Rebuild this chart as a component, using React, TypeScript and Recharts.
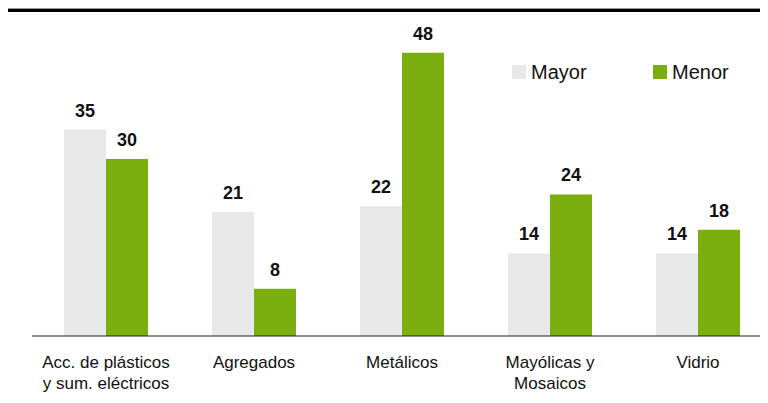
import React from "react";
import { BarChart, Bar, XAxis, YAxis, LabelList, Legend } from "recharts";

const categories = [
  "Acc. de plásticos\ny sum. eléctricos",
  "Agregados",
  "Metálicos",
  "Mayólicas y\nMosaicos",
  "Vidrio",
];
const mayor = [35, 21, 22, 14, 14];
const menor = [30, 8, 48, 24, 18];
const seriesNames = ["Mayor", "Menor"];

const GREY = "#e8e8e8";
const GREEN = "#7bae0f";
const FONT = "'Liberation Sans', Arial, sans-serif";

const data = categories.map((c, i) => ({ cat: c, mayor: mayor[i], menor: menor[i] }));

const CategoryTick = (props: any) => {
  const { x, y, payload } = props;
  const lines = String(payload.value).split("\n");
  return (
    <text x={x} y={y} textAnchor="middle" fill="#111" fontSize={17} fontFamily={FONT}>
      {lines.map((l, i) => (
        <tspan key={i} x={x} dy={i === 0 ? 32 : 21}>
          {l}
        </tspan>
      ))}
    </text>
  );
};

const LegendBox = () => (
  <div style={{ display: "flex", alignItems: "center", height: 24, fontFamily: FONT, fontSize: 20, color: "#111" }}>
    {seriesNames.map((n, i) => (
      <div key={n} style={{ display: "flex", alignItems: "center", width: i === 0 ? 141 : "auto" }}>
        <span style={{ display: "inline-block", width: 14, height: 14, background: i === 0 ? GREY : GREEN, marginRight: 5 }} />
        <span>{n}</span>
      </div>
    ))}
  </div>
);

export default function App() {
  return (
    <div style={{ position: "relative", margin: -8, width: 768, height: 403, overflow: "hidden", background: "#fff" }}>
      <div style={{ position: "absolute", left: 7, right: 0, top: 8, height: 1, background: "#9a9a9a" }} />
      <div style={{ position: "absolute", left: 7, right: 0, top: 9, height: 3, background: "#000" }} />
      <BarChart
        width={780}
        height={403}
        data={data}
        margin={{ top: 41, right: 8, bottom: 37, left: 32 }}
        barGap={0}
        barSize={42}
      >
        <XAxis
          dataKey="cat"
          interval={0}
          height={30}
          tickLine={false}
          tickSize={0}
          tickMargin={0}
          axisLine={{ stroke: "#222", strokeWidth: 1 }}
          tick={<CategoryTick />}
        />
        <YAxis hide domain={[0, 50]} />
        <Legend
          layout="horizontal"
          verticalAlign="middle"
          align="center"
          content={<LegendBox />}
          wrapperStyle={{ top: 60, left: 512, width: 240, height: 24 }}
        />
        <Bar dataKey="mayor" name="Mayor" fill={GREY} isAnimationActive={false}>
          <LabelList dataKey="mayor" position="top" offset={13} fill="#111" fontSize={18} fontWeight="bold" fontFamily={FONT} />
        </Bar>
        <Bar dataKey="menor" name="Menor" fill={GREEN} isAnimationActive={false}>
          <LabelList dataKey="menor" position="top" offset={13} fill="#111" fontSize={18} fontWeight="bold" fontFamily={FONT} />
        </Bar>
      </BarChart>
    </div>
  );
}
